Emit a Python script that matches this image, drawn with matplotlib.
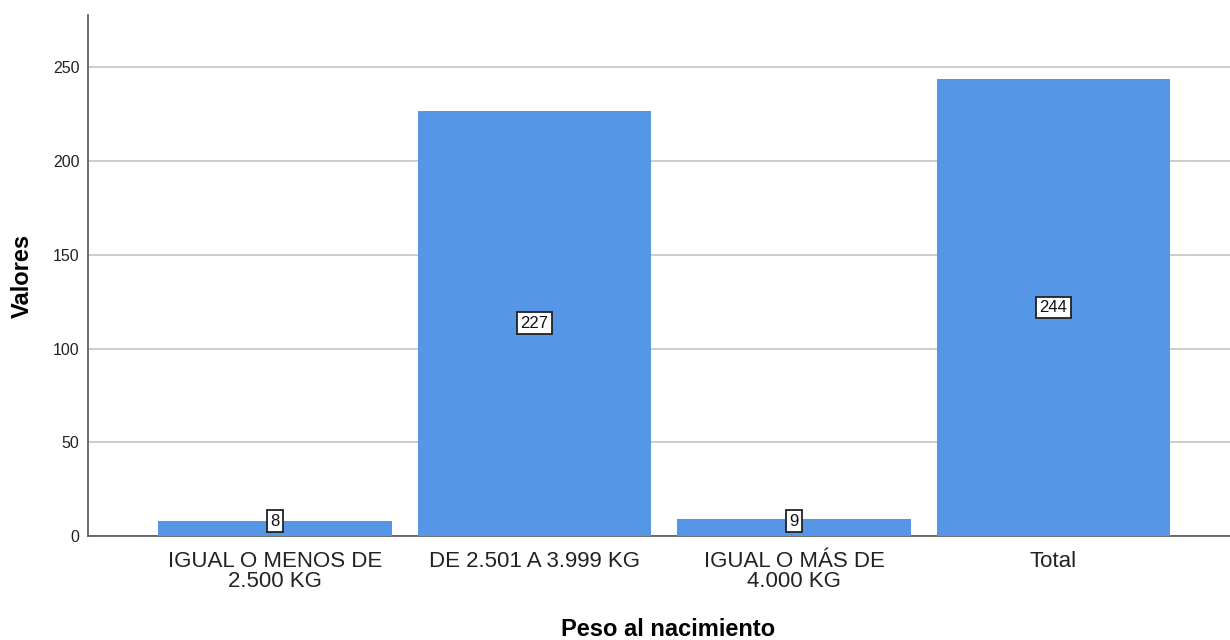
import matplotlib
matplotlib.use("Agg")
import matplotlib.pyplot as plt

categories = ["IGUAL O MENOS DE\n2.500 KG", "DE 2.501 A 3.999 KG", "IGUAL O MÁS DE\n4.000 KG", "Total"]
values = [8, 227, 9, 244]
yticks = [0, 50, 100, 150, 200, 250]

plt.rcParams['font.family'] = ['Liberation Sans', 'DejaVu Sans']

fig = plt.figure(figsize=(12.3, 6.4), dpi=100)
ax = fig.add_axes([0.0715, 0.1625, 0.9285, 0.8141])

x = list(range(len(categories)))
bars = ax.bar(x, values, width=0.9, color="#5596E6", edgecolor="none", zorder=3)

for xi, v in zip(x, values):
    ax.text(xi, max(v / 2, 8), str(v), ha="center", va="center", fontsize=12, zorder=4,
            color="#111111",
            bbox=dict(boxstyle="square,pad=0.2", facecolor="white", edgecolor="#222222", linewidth=1.3))

ax.set_xlim(-0.72, 3.68)
ax.set_ylim(0, 278)
ax.set_yticks(yticks)
ax.set_yticklabels([str(t) for t in yticks], fontsize=11.5, color="#222222")
ax.set_xticks(x)
ax.set_xticklabels(categories, fontsize=16, linespacing=0.92, color="#222222")
ax.tick_params(axis="x", length=0, pad=11)
ax.tick_params(axis="y", length=0, pad=6)

ax.grid(axis="y", color="#c8c8c8", linewidth=1.3, zorder=0)
for s in ["top", "right"]:
    ax.spines[s].set_visible(False)
ax.spines["left"].set_color("#555555")
ax.spines["bottom"].set_color("#555555")
ax.spines["left"].set_linewidth(1.2)
ax.spines["bottom"].set_linewidth(1.2)

ax.set_xlabel("Peso al nacimiento", fontsize=17, fontweight="bold")
ax.xaxis.label.set_va("center")
ax.xaxis.set_label_coords(0.508, -0.180)
ax.set_ylabel("Valores", fontsize=17, fontweight="bold", labelpad=14)

fig.savefig("out.png", dpi=100)
